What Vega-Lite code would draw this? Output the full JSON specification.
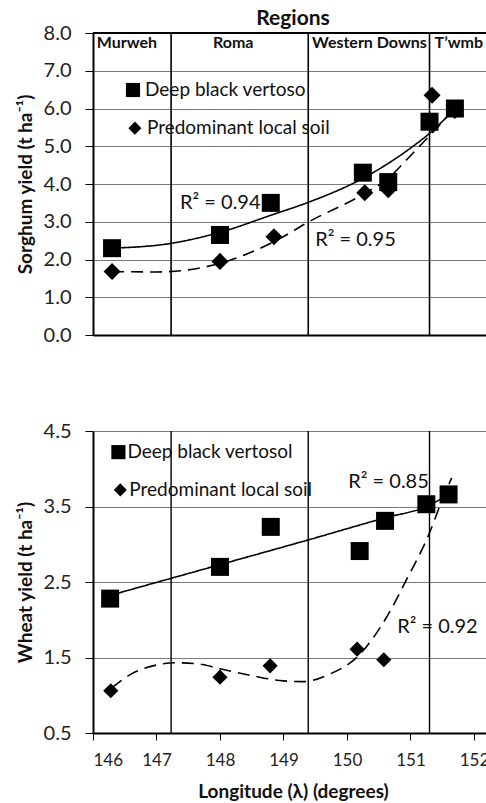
{
  "$schema": "https://vega.github.io/schema/vega-lite/v6.json",
  "padding": {"left": 16, "top": 8, "right": 0, "bottom": 0},
  "bounds": "flush",
  "spacing": 96,
  "background": "white",
  "config": {
    "font": "Lato",
    "view": {"stroke": null},
    "axis": {
      "domainColor": "black",
      "domainWidth": 2,
      "tickColor": "black",
      "labelColor": "#222",
      "titleColor": "#111",
      "titleFontWeight": "bold",
      "titleFontSize": 19,
      "gridColor": "#7a7a7a",
      "gridWidth": 1
    }
  },
  "datasets": {
    "sorghum": [
      {"lon": 146.3, "yield": 2.3, "soil": "Deep black vertosol"},
      {"lon": 148.0, "yield": 2.65, "soil": "Deep black vertosol"},
      {"lon": 148.8, "yield": 3.5, "soil": "Deep black vertosol"},
      {"lon": 150.25, "yield": 4.3, "soil": "Deep black vertosol"},
      {"lon": 150.65, "yield": 4.05, "soil": "Deep black vertosol"},
      {"lon": 151.3, "yield": 5.65, "soil": "Deep black vertosol"},
      {"lon": 151.7, "yield": 6.0, "soil": "Deep black vertosol"},
      {"lon": 146.3, "yield": 1.68, "soil": "Predominant local soil"},
      {"lon": 148.0, "yield": 1.95, "soil": "Predominant local soil"},
      {"lon": 148.85, "yield": 2.6, "soil": "Predominant local soil"},
      {"lon": 150.28, "yield": 3.77, "soil": "Predominant local soil"},
      {"lon": 150.65, "yield": 3.85, "soil": "Predominant local soil"},
      {"lon": 151.34, "yield": 6.35, "soil": "Predominant local soil"},
      {"lon": 151.7, "yield": 5.95, "soil": "Predominant local soil"}
    ],
    "sorghumFit": [
      {"lon": 146.3, "yield": 2.3, "soil": "Deep black vertosol"},
      {"lon": 147.2, "yield": 2.42, "soil": "Deep black vertosol"},
      {"lon": 148.0, "yield": 2.72, "soil": "Deep black vertosol"},
      {"lon": 148.85, "yield": 3.2, "soil": "Deep black vertosol"},
      {"lon": 149.4, "yield": 3.52, "soil": "Deep black vertosol"},
      {"lon": 150.25, "yield": 4.15, "soil": "Deep black vertosol"},
      {"lon": 151.0, "yield": 4.95, "soil": "Deep black vertosol"},
      {"lon": 151.34, "yield": 5.4, "soil": "Deep black vertosol"},
      {"lon": 151.7, "yield": 6.0, "soil": "Deep black vertosol"},
      {"lon": 146.3, "yield": 1.68, "soil": "Predominant local soil"},
      {"lon": 147.0, "yield": 1.67, "soil": "Predominant local soil"},
      {"lon": 147.6, "yield": 1.75, "soil": "Predominant local soil"},
      {"lon": 148.0, "yield": 1.9, "soil": "Predominant local soil"},
      {"lon": 148.85, "yield": 2.47, "soil": "Predominant local soil"},
      {"lon": 149.4, "yield": 3.0, "soil": "Predominant local soil"},
      {"lon": 150.28, "yield": 3.75, "soil": "Predominant local soil"},
      {"lon": 150.65, "yield": 4.15, "soil": "Predominant local soil"},
      {"lon": 151.0, "yield": 4.75, "soil": "Predominant local soil"},
      {"lon": 151.34, "yield": 5.35, "soil": "Predominant local soil"},
      {"lon": 151.7, "yield": 6.0, "soil": "Predominant local soil"}
    ],
    "wheat": [
      {"lon": 146.27, "yield": 2.28, "soil": "Deep black vertosol"},
      {"lon": 148.0, "yield": 2.7, "soil": "Deep black vertosol"},
      {"lon": 148.8, "yield": 3.23, "soil": "Deep black vertosol"},
      {"lon": 150.2, "yield": 2.91, "soil": "Deep black vertosol"},
      {"lon": 150.6, "yield": 3.31, "soil": "Deep black vertosol"},
      {"lon": 151.25, "yield": 3.53, "soil": "Deep black vertosol"},
      {"lon": 151.6, "yield": 3.66, "soil": "Deep black vertosol"},
      {"lon": 146.28, "yield": 1.06, "soil": "Predominant local soil"},
      {"lon": 148.0, "yield": 1.24, "soil": "Predominant local soil"},
      {"lon": 148.79, "yield": 1.39, "soil": "Predominant local soil"},
      {"lon": 150.16, "yield": 1.61, "soil": "Predominant local soil"},
      {"lon": 150.58, "yield": 1.47, "soil": "Predominant local soil"}
    ],
    "wheatFit": [
      {"lon": 146.3, "yield": 2.33, "soil": "Deep black vertosol"},
      {"lon": 148.0, "yield": 2.73, "soil": "Deep black vertosol"},
      {"lon": 149.4, "yield": 3.06, "soil": "Deep black vertosol"},
      {"lon": 150.6, "yield": 3.35, "soil": "Deep black vertosol"},
      {"lon": 151.25, "yield": 3.5, "soil": "Deep black vertosol"},
      {"lon": 151.6, "yield": 3.66, "soil": "Deep black vertosol"},
      {"lon": 146.3, "yield": 1.1, "soil": "Predominant local soil"},
      {"lon": 146.6, "yield": 1.28, "soil": "Predominant local soil"},
      {"lon": 147.0, "yield": 1.4, "soil": "Predominant local soil"},
      {"lon": 147.3, "yield": 1.43, "soil": "Predominant local soil"},
      {"lon": 147.7, "yield": 1.41, "soil": "Predominant local soil"},
      {"lon": 148.0, "yield": 1.35, "soil": "Predominant local soil"},
      {"lon": 148.5, "yield": 1.26, "soil": "Predominant local soil"},
      {"lon": 149.0, "yield": 1.19, "soil": "Predominant local soil"},
      {"lon": 149.3, "yield": 1.18, "soil": "Predominant local soil"},
      {"lon": 149.7, "yield": 1.27, "soil": "Predominant local soil"},
      {"lon": 150.2, "yield": 1.54, "soil": "Predominant local soil"},
      {"lon": 150.6, "yield": 2.0, "soil": "Predominant local soil"},
      {"lon": 150.95, "yield": 2.55, "soil": "Predominant local soil"},
      {"lon": 151.3, "yield": 3.15, "soil": "Predominant local soil"},
      {"lon": 151.5, "yield": 3.59, "soil": "Predominant local soil"},
      {"lon": 151.65, "yield": 3.88, "soil": "Predominant local soil"}
    ],
    "regionLines": [{"lon": 147.23}, {"lon": 149.39}, {"lon": 151.3}],
    "regionLabels": [
      {"lon": 146.06, "yield": 7.73, "label": "Murweh"},
      {"lon": 147.89, "yield": 7.73, "label": "Roma"},
      {"lon": 149.45, "yield": 7.73, "label": "Western Downs"},
      {"lon": 151.38, "yield": 7.73, "label": "T’wmb"}
    ],
    "sorghumKey": [
      {"lon": 146.63, "yield": 6.49, "soil": "Deep black vertosol", "label": "Deep black vertoso"},
      {"lon": 146.66, "yield": 5.48, "soil": "Predominant local soil", "label": "Predominant local soil"}
    ],
    "wheatKey": [
      {"lon": 146.4, "yield": 4.22, "soil": "Deep black vertosol", "label": "Deep black vertosol"},
      {"lon": 146.43, "yield": 3.72, "soil": "Predominant local soil", "label": "Predominant local soil"}
    ],
    "sorghumR2": [
      {"lon": 147.37, "yield": 3.5, "label": "R² = 0.94"},
      {"lon": 149.5, "yield": 2.52, "label": "R² = 0.95"}
    ],
    "wheatR2": [
      {"lon": 150.02, "yield": 3.82, "label": "R² = 0.85"},
      {"lon": 150.79, "yield": 1.9, "label": "R² = 0.92"}
    ]
  },
  "vconcat": [
    {
      "width": 400,
      "height": 302,
      "title": {"text": "Regions", "anchor": "middle", "fontSize": 21, "fontWeight": "bold", "offset": -6, "color": "#111"},
      "encoding": {
        "x": {"field": "lon", "type": "quantitative", "scale": {"domain": [146, 152.3], "nice": false, "zero": false},
          "axis": {"labels": false, "ticks": false, "title": null, "grid": false}},
        "y": {"field": "yield", "type": "quantitative", "scale": {"domain": [0, 8], "nice": false},
          "axis": {"title": "Sorghum yield (t ha⁻¹)", "values": [0, 1, 2, 3, 4, 5, 6, 7, 8], "format": ".1f",
            "labelFontSize": 20, "tickSize": 8, "labelPadding": 14, "titlePadding": 8, "grid": true}}
      },
      "layer": [
        {"data": {"name": "regionLines"}, "mark": {"type": "rule", "color": "black", "strokeWidth": 1.6},
          "encoding": {"y": null, "x": {"field": "lon", "type": "quantitative"}}},
        {"data": {"values": [{"yield": 8}]}, "mark": {"type": "rule", "color": "black", "strokeWidth": 2},
          "encoding": {"x": null, "y": {"field": "yield", "type": "quantitative"}}},
        {"data": {"name": "regionLabels"}, "mark": {"type": "text", "align": "left", "baseline": "middle", "fontSize": 16, "fontWeight": "bold", "color": "#111"},
          "encoding": {"text": {"field": "label"}}},
        {"data": {"name": "sorghumFit"}, "mark": {"type": "line", "color": "black", "strokeWidth": 1.6, "interpolate": "monotone"},
          "encoding": {"detail": {"field": "soil"},
            "strokeDash": {"field": "soil", "type": "nominal", "scale": {"domain": ["Deep black vertosol", "Predominant local soil"], "range": [[1, 0], [12, 7]]}, "legend": null}}},
        {"data": {"name": "sorghum"}, "mark": {"type": "point", "filled": true, "color": "black", "opacity": 1},
          "encoding": {
            "shape": {"field": "soil", "type": "nominal", "scale": {"domain": ["Deep black vertosol", "Predominant local soil"], "range": ["square", "diamond"]}, "legend": null},
            "size": {"field": "soil", "type": "nominal", "scale": {"domain": ["Deep black vertosol", "Predominant local soil"], "range": [324, 290]}, "legend": null}}},
        {"data": {"name": "sorghumKey"}, "mark": {"type": "point", "filled": true, "color": "black", "opacity": 1},
          "encoding": {
            "shape": {"field": "soil", "type": "nominal", "scale": {"domain": ["Deep black vertosol", "Predominant local soil"], "range": ["square", "diamond"]}, "legend": null},
            "size": {"field": "soil", "type": "nominal", "scale": {"domain": ["Deep black vertosol", "Predominant local soil"], "range": [200, 170]}, "legend": null}}},
        {"data": {"name": "sorghumKey"}, "mark": {"type": "text", "align": "left", "baseline": "middle", "fontSize": 19, "dx": 12, "color": "#111"},
          "encoding": {"text": {"field": "label"}}},
        {"data": {"name": "sorghumR2"}, "mark": {"type": "text", "align": "left", "baseline": "middle", "fontSize": 20, "color": "#111"},
          "encoding": {"text": {"field": "label"}}}
      ],
      "resolve": {"scale": {"shape": "independent", "size": "independent"}}
    },
    {
      "width": 400,
      "height": 302,
      "encoding": {
        "x": {"field": "lon", "type": "quantitative", "scale": {"domain": [146, 152.3], "nice": false, "zero": false},
          "axis": {"title": "Longitude (λ) (degrees)", "values": [146, 147, 148, 149, 150, 151, 152], "format": "d",
            "labelFontSize": 17, "tickSize": 7, "labelPadding": 12, "titlePadding": 14, "grid": false}},
        "y": {"field": "yield", "type": "quantitative", "scale": {"domain": [0.5, 4.5], "nice": false, "zero": false},
          "axis": {"title": "Wheat yield (t ha⁻¹)", "values": [0.5, 1.5, 2.5, 3.5, 4.5], "format": ".1f",
            "labelFontSize": 20, "tickSize": 8, "labelPadding": 14, "titlePadding": 8, "grid": true}}
      },
      "layer": [
        {"data": {"name": "regionLines"}, "mark": {"type": "rule", "color": "black", "strokeWidth": 1.4},
          "encoding": {"y": null, "x": {"field": "lon", "type": "quantitative"}}},
        {"data": {"name": "wheatFit"}, "mark": {"type": "line", "color": "black", "strokeWidth": 1.6, "interpolate": "monotone"},
          "encoding": {"detail": {"field": "soil"},
            "strokeDash": {"field": "soil", "type": "nominal", "scale": {"domain": ["Deep black vertosol", "Predominant local soil"], "range": [[1, 0], [12, 7]]}, "legend": null}}},
        {"data": {"name": "wheat"}, "mark": {"type": "point", "filled": true, "color": "black", "opacity": 1},
          "encoding": {
            "shape": {"field": "soil", "type": "nominal", "scale": {"domain": ["Deep black vertosol", "Predominant local soil"], "range": ["square", "diamond"]}, "legend": null},
            "size": {"field": "soil", "type": "nominal", "scale": {"domain": ["Deep black vertosol", "Predominant local soil"], "range": [324, 230]}, "legend": null}}},
        {"data": {"name": "wheatKey"}, "mark": {"type": "point", "filled": true, "color": "black", "opacity": 1},
          "encoding": {
            "shape": {"field": "soil", "type": "nominal", "scale": {"domain": ["Deep black vertosol", "Predominant local soil"], "range": ["square", "diamond"]}, "legend": null},
            "size": {"field": "soil", "type": "nominal", "scale": {"domain": ["Deep black vertosol", "Predominant local soil"], "range": [200, 170]}, "legend": null}}},
        {"data": {"name": "wheatKey"}, "mark": {"type": "text", "align": "left", "baseline": "middle", "fontSize": 19, "dx": 9, "color": "#111"},
          "encoding": {"text": {"field": "label"}}},
        {"data": {"name": "wheatR2"}, "mark": {"type": "text", "align": "left", "baseline": "middle", "fontSize": 20, "color": "#111"},
          "encoding": {"text": {"field": "label"}}}
      ],
      "resolve": {"scale": {"shape": "independent", "size": "independent"}}
    }
  ]
}
